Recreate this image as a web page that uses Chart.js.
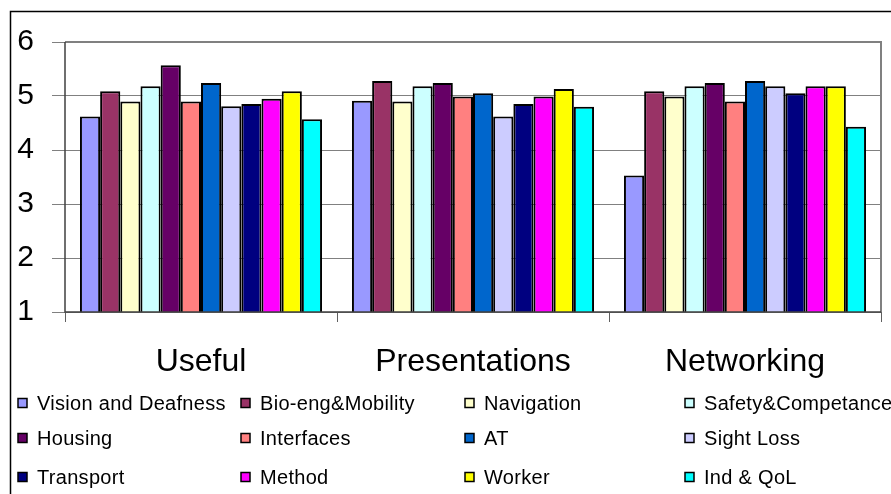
<!DOCTYPE html>
<html>
<head>
<meta charset="utf-8">
<script src="https://cdn.jsdelivr.net/npm/chart.js@4"></script>
<style>
  html, body { margin: 0; padding: 0; background: #fff; }
  #wrap { width: 891px; height: 494px; position: relative; }
</style>
</head>
<body>
<div id="wrap"><canvas id="chart" width="891" height="494"></canvas></div>
<script>
// groups along the x axis
var groups = ["Useful", "Presentations", "Networking"];

// series (legend order)
var series = ["Vision and Deafness", "Bio-eng&Mobility", "Navigation", "Safety&Competance",
              "Housing", "Interfaces", "AT", "Sight Loss",
              "Transport", "Method", "Worker", "Ind & QoL"];

var colors = ["#9999FF", "#993366", "#FFFFCC", "#CCFFFF",
              "#660066", "#FF8080", "#0066CC", "#CCCCFF",
              "#000080", "#FF00FF", "#FFFF00", "#00FFFF"];

// one array per series: Useful, Presentations, Networking
var visionDeafness = [4.62, 4.91, 3.53];
var bioEngMobility = [5.09, 5.28, 5.09];
var navigation     = [4.90, 4.90, 4.99];
var safetyComp     = [5.18, 5.18, 5.18];
var housing        = [5.57, 5.24, 5.24];
var interfaces     = [4.90, 4.99, 4.90];
var at             = [5.24, 5.05, 5.28];
var sightLoss      = [4.81, 4.62, 5.18];
var transport      = [4.85, 4.85, 5.05];
var method         = [4.95, 4.99, 5.18];
var worker         = [5.09, 5.13, 5.18];
var indQol         = [4.57, 4.80, 4.43];

var values = [visionDeafness, bioEngMobility, navigation, safetyComp, housing, interfaces,
              at, sightLoss, transport, method, worker, indQol];

var yTicks = [1, 2, 3, 4, 5, 6];

var datasets = [];
for (var i = 0; i < series.length; i++) {
    datasets.push({
        label: series[i],
        data: values[i],
        backgroundColor: colors[i],
        borderColor: "#000000",
        borderWidth: 2,
        borderSkipped: false,
        barPercentage: 1.0,
        categoryPercentage: 0.89
    });
}

// frame, plot border and the 4 column legend
var decor = {
    id: "decor",
    beforeDatasetsDraw: function(chart) {
        var c = chart.ctx, a = chart.chartArea;
        c.save();
        c.strokeStyle = "#808080";
        c.lineWidth = 2;
        c.beginPath();
        c.moveTo(a.left, a.top);
        c.lineTo(a.right, a.top);
        c.lineTo(a.right, a.bottom);
        c.stroke();
        c.restore();
    },
    afterDraw: function(chart) {
        var c = chart.ctx, a = chart.chartArea;
        c.save();
        // outer chart frame (cut by the picture on the right and bottom)
        c.strokeStyle = "#000000";
        c.lineWidth = 1.5;
        c.beginPath();
        c.moveTo(10.5, 494);
        c.lineTo(10.5, 11.5);
        c.lineTo(891, 11.5);
        c.stroke();

        // axis lines
        c.strokeStyle = "#404040";
        c.lineWidth = 1.5;
        c.beginPath();
        c.moveTo(a.left, a.top);
        c.lineTo(a.left, a.bottom);
        c.lineTo(a.right, a.bottom);
        c.stroke();

        // legend
        var colX = [18, 241, 465, 685];
        var rowY = [403, 438, 477];
        c.font = "20px 'Liberation Sans', Arial, sans-serif";
        c.letterSpacing = "0.3px";
        c.textBaseline = "middle";
        c.textAlign = "left";
        chart.data.datasets.forEach(function(ds, k) {
            var x = colX[k % 4], y = rowY[Math.floor(k / 4)];
            c.fillStyle = ds.backgroundColor;
            c.fillRect(x, y - 4.5, 9, 9);
            c.strokeStyle = "#000";
            c.lineWidth = 1.5;
            c.strokeRect(x, y - 4.5, 9, 9);
            c.fillStyle = "#000";
            c.fillText(ds.label, x + 19, y + 1);
        });
        c.restore();
    }
};

var ctx = document.getElementById("chart");
var graph = new Chart(ctx, {
    type: "bar",
    data: { labels: groups, datasets: datasets },
    plugins: [decor],
    options: {
        responsive: false,
        animation: false,
        layout: { padding: { top: 42, right: 10, left: 0, bottom: 0 } },
        plugins: {
            legend: { display: false },
            tooltip: { enabled: false }
        },
        scales: {
            x: {
                afterFit: function(scale) { scale.height = 182; },
                border: { display: false },
                grid: { drawOnChartArea: false, drawTicks: true, tickLength: 10, color: "#606060", offset: true },
                ticks: {
                    color: "#000",
                    padding: 21,
                    maxRotation: 0,
                    font: { family: "'Liberation Sans', Arial, sans-serif", size: 32 }
                }
            },
            y: {
                min: 1,
                max: 6,
                afterFit: function(scale) { scale.width = 65; },
                afterBuildTicks: function(scale) {
                    scale.ticks = yTicks.map(function(v) { return { value: v }; });
                },
                border: { display: false },
                grid: { color: "#808080", lineWidth: 1, tickLength: 13 },
                ticks: {
                    color: "#000",
                    padding: 18,
                    font: { family: "'Liberation Sans', Arial, sans-serif", size: 30 }
                }
            }
        }
    }
});
</script>
</body>
</html>
